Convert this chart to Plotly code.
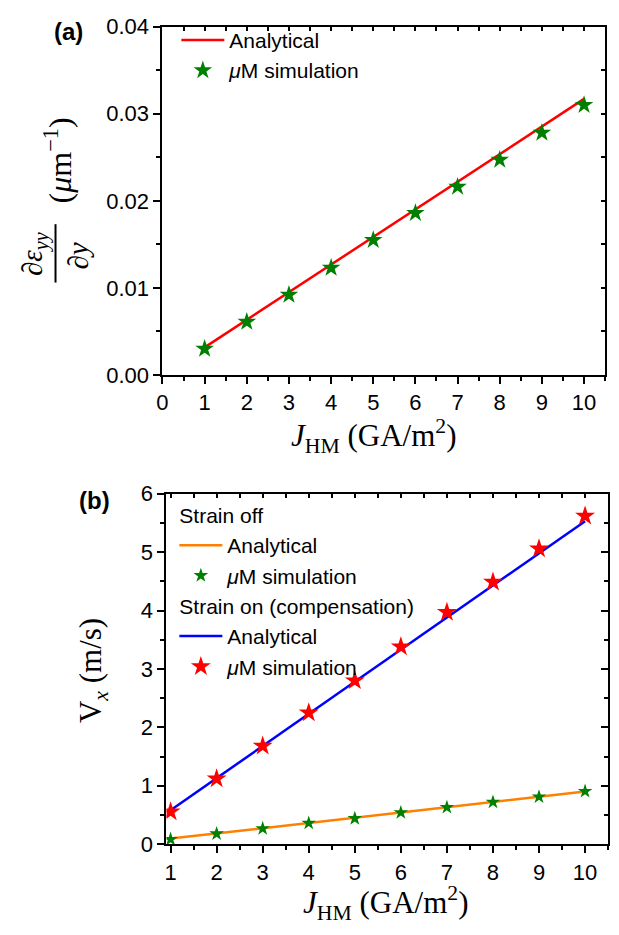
import plotly.graph_objects as go

# ---------------- data ----------------
j_a = [1, 2, 3, 4, 5, 6, 7, 8, 9, 10]
grad_analytical = [0.00317, 0.00635, 0.00952, 0.0127, 0.0159, 0.0190, 0.0222, 0.0254, 0.0286, 0.0317]
grad_sim = [0.0030, 0.0061, 0.0092, 0.0123, 0.0155, 0.0186, 0.0216, 0.0247, 0.0278, 0.0310]

j_b = [1, 2, 3, 4, 5, 6, 7, 8, 9, 10]
v_off_analytical = [0.095, 0.185, 0.275, 0.36, 0.45, 0.54, 0.63, 0.72, 0.81, 0.90]
v_off_sim = [0.083, 0.178, 0.267, 0.36, 0.44, 0.54, 0.63, 0.72, 0.81, 0.905]
v_on_analytical = [0.58, 1.13, 1.68, 2.23, 2.78, 3.33, 3.88, 4.43, 4.98, 5.53]
v_on_sim = [0.555, 1.12, 1.68, 2.25, 2.80, 3.38, 3.97, 4.49, 5.06, 5.62]

xticks_a = [0, 1, 2, 3, 4, 5, 6, 7, 8, 9, 10]
xticks_b = [1, 2, 3, 4, 5, 6, 7, 8, 9, 10]

W, H = 619, 935
def px(x):
    return x / W
def py(y):
    return 1 - y / H

SANS = "Liberation Sans, Arial, sans-serif"
SERIF = "Liberation Serif, Times New Roman, serif"

fig = go.Figure()

# ---- panel (a)
fig.add_trace(go.Scatter(x=j_a, y=grad_analytical, mode="lines", name="Analytical",
                         line=dict(color="#FF0000", width=2.5), xaxis="x", yaxis="y", legend="legend"))
fig.add_trace(go.Scatter(x=j_a, y=grad_sim, mode="markers", name="<i>μ</i>M simulation",
                         marker=dict(symbol="star", size=14, color="#008000", line=dict(width=0)),
                         xaxis="x", yaxis="y", legend="legend"))
# helper trace for mirrored (inner) top/right axes
fig.add_trace(go.Scatter(x=j_a, y=grad_analytical, mode="lines", line=dict(color="rgba(0,0,0,0)"),
                         showlegend=False, hoverinfo="skip", xaxis="x3", yaxis="y3"))

# ---- panel (b)
fig.add_trace(go.Scatter(x=j_b, y=v_off_analytical, mode="lines", name="Analytical",
                         line=dict(color="#FF8000", width=2.5), xaxis="x2", yaxis="y2",
                         legend="legend2", legendgroup="off", legendgrouptitle=dict(text="Strain off")))
fig.add_trace(go.Scatter(x=j_b, y=v_off_sim, mode="markers", name="<i>μ</i>M simulation",
                         marker=dict(symbol="star", size=11, color="#008000", line=dict(width=0)),
                         xaxis="x2", yaxis="y2", legend="legend2", legendgroup="off"))
fig.add_trace(go.Scatter(x=j_b, y=v_on_analytical, mode="lines", name="Analytical",
                         line=dict(color="#0000FF", width=2.5), xaxis="x2", yaxis="y2",
                         legend="legend2", legendgroup="on",
                         legendgrouptitle=dict(text="Strain on (compensation)")))
fig.add_trace(go.Scatter(x=j_b, y=v_on_sim, mode="markers", name="<i>μ</i>M simulation",
                         marker=dict(symbol="star", size=15, color="#FF0000", line=dict(width=0)),
                         xaxis="x2", yaxis="y2", legend="legend2", legendgroup="on"))
fig.add_trace(go.Scatter(x=j_b, y=v_on_analytical, mode="lines", line=dict(color="rgba(0,0,0,0)"),
                         showlegend=False, hoverinfo="skip", xaxis="x4", yaxis="y4"))

tickfont = dict(family=SANS, size=22, color="black")
axis_common = dict(showline=True, linewidth=2, linecolor="black", showgrid=False, zeroline=False,
                   tickfont=tickfont, tickcolor="black", tickwidth=2)

dom_xa = [px(158), px(605)]
dom_ya = [py(373), py(15)]
dom_xb = [px(162), px(608)]
dom_yb = [py(855), py(495)]
range_xa = [0, 10.5]
range_ya = [0, 0.04]
range_xb = [0.91, 10.5]
range_yb = [0, 6]

legfont = dict(family=SANS, size=21, color="black")

fig.update_layout(
    width=W, height=H, margin=dict(l=0, r=0, t=0, b=0),
    plot_bgcolor="white", paper_bgcolor="white",
    xaxis=dict(**axis_common, domain=dom_xa, range=range_xa, anchor="y", tickvals=xticks_a,
               ticks="outside", ticklen=7,
               minor=dict(ticks="outside", ticklen=4, dtick=0.5, tick0=0, tickcolor="black", tickwidth=2)),
    yaxis=dict(**axis_common, domain=dom_ya, range=range_ya, anchor="x", dtick=0.01, tickformat=".2f",
               ticks="outside", ticklen=7,
               minor=dict(ticks="outside", ticklen=4, dtick=0.005, tick0=0, tickcolor="black", tickwidth=2)),
    xaxis3=dict(**axis_common, range=range_xa, overlaying="x", side="top", anchor="y3",
                showticklabels=False, ticks="inside", ticklen=4, dtick=0.5, tick0=0),
    yaxis3=dict(**axis_common, range=range_ya, overlaying="y", side="right", anchor="x3",
                showticklabels=False, ticks="inside", ticklen=4, dtick=0.005, tick0=0),
    xaxis2=dict(**axis_common, domain=dom_xb, range=range_xb, anchor="y2", tickvals=xticks_b,
                ticks="outside", ticklen=7,
                minor=dict(ticks="outside", ticklen=4, dtick=0.5, tick0=0.5, tickcolor="black", tickwidth=2)),
    yaxis2=dict(**axis_common, domain=dom_yb, range=range_yb, anchor="x2", dtick=1,
                ticks="outside", ticklen=7,
                minor=dict(ticks="outside", ticklen=4, dtick=0.5, tick0=0, tickcolor="black", tickwidth=2)),
    xaxis4=dict(**axis_common, range=range_xb, overlaying="x2", side="top", anchor="y4",
                showticklabels=False, ticks="inside", ticklen=4, dtick=0.5, tick0=1),
    yaxis4=dict(**axis_common, range=range_yb, overlaying="y2", side="right", anchor="x4",
                showticklabels=False, ticks="inside", ticklen=7, dtick=1,
                minor=dict(ticks="inside", ticklen=4, dtick=0.5, tick0=0, tickcolor="black", tickwidth=2)),
    legend=dict(x=px(172), y=py(8), xanchor="left", yanchor="top", bgcolor="rgba(0,0,0,0)",
                font=legfont, tracegroupgap=0, itemwidth=43),
    legend2=dict(x=px(170), y=py(496), xanchor="left", yanchor="top", bgcolor="rgba(0,0,0,0)",
                 font=legfont, tracegroupgap=0, itemwidth=43,
                 traceorder="grouped", grouptitlefont=legfont),
    showlegend=True,
)

ann = []
ann.append(dict(text="<b>(a)</b>", x=px(63), y=py(20), font=dict(family=SANS, size=24, color="black")))
ann.append(dict(text="<b>(b)</b>", x=px(89), y=py(502), font=dict(family=SANS, size=24, color="black")))
mathfont = dict(family=SERIF, size=31, color="black")
ann.append(dict(text="<i>J</i><sub>HM</sub> (GA/m<sup>2</sup>)", x=px(371), y=py(436), font=mathfont))
ann.append(dict(text="<i>J</i><sub>HM</sub> (GA/m<sup>2</sup>)", x=px(383), y=py(915), font=mathfont))
# y title (a): fraction d eps_yy / dy  (um^-1)
fracfont = dict(family=SERIF, size=29, color="black")
ann.append(dict(text="∂<i>ε</i><sub><i>yy</i></sub>", x=px(29), y=py(248), font=fracfont, textangle=-90))
ann.append(dict(text="∂<i>y</i>", x=px(73), y=py(251), font=fracfont, textangle=-90))
ann.append(dict(text="(<i>μ</i>m<sup>−1</sup>)", x=px(52), y=py(152), font=dict(family=SERIF, size=32, color="black"),
                textangle=-90))
# y title (b)
ann.append(dict(text="V<sub><i>x</i></sub> (m/s)", x=px(88), y=py(677), font=mathfont, textangle=-90))
for a in ann:
    a.update(xref="paper", yref="paper", showarrow=False, xanchor="center", yanchor="middle")
fig.update_layout(annotations=ann)

fig.add_shape(type="line", xref="paper", yref="paper", x0=px(50), x1=px(50), y0=py(218), y1=py(278),
              line=dict(color="black", width=2))

fig.write_html("out.html")
